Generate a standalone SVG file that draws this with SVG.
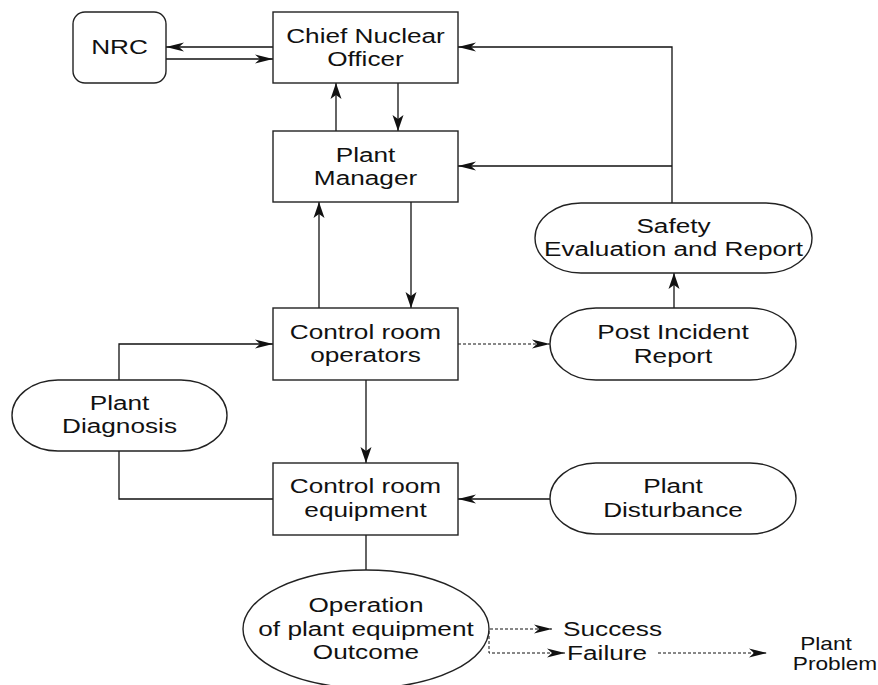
<svg xmlns="http://www.w3.org/2000/svg" width="878" height="685" viewBox="0 0 878 685">
  <style>
    .box { fill: #fff; stroke: #222; stroke-width: 1.4; }
    .lbl { font-family: "Liberation Sans", Arial, sans-serif; font-size: 20px; fill: #111; text-anchor: middle; }
    .lbl.start { text-anchor: start; }
    .lbl.small { font-size: 18px; }
    .ln { fill: none; stroke: #111; stroke-width: 1.3; }
    .dash { fill: none; stroke: #111; stroke-width: 1; stroke-dasharray: 3 2; }
    .h { marker-end: url(#ah); }
    .v { marker-end: url(#av); }
  </style>
  <defs>
    <!-- barbed arrowheads: a narrow one for horizontal runs, a wider one for vertical runs -->
    <marker id="ah" markerUnits="userSpaceOnUse" markerWidth="20" markerHeight="10" refX="18" refY="4.5" orient="auto" overflow="visible">
      <path d="M0,0 L18,4.5 L0,9 L5,4.5 z" fill="#111"/>
    </marker>
    <marker id="av" markerUnits="userSpaceOnUse" markerWidth="17" markerHeight="12" refX="16" refY="5.5" orient="auto" overflow="visible">
      <path d="M0,0 L16,5.5 L0,11 L4,5.5 z" fill="#111"/>
    </marker>
  </defs>

  <rect width="878" height="685" fill="#fff"/>

  <g id="connectors">
    <!-- NRC / Chief Nuclear Officer -->
    <path class="ln h" d="M273,47 H166"/>
    <path class="ln h" d="M166,59 H273"/>
    <!-- Chief Nuclear Officer / Plant Manager -->
    <path class="ln v" d="M336,131 V83"/>
    <path class="ln v" d="M398,83 V131"/>
    <!-- Safety evaluation feedback -->
    <path class="ln h" d="M672,203 V47 H458"/>
    <path class="ln h" d="M672,166 H458"/>
    <!-- Plant Manager / Control room operators -->
    <path class="ln v" d="M411,202 V308"/>
    <path class="ln v" d="M319,308 V202"/>
    <!-- Post incident report up to safety evaluation -->
    <path class="ln v" d="M674,308 V273"/>
    <!-- operators to post incident report -->
    <path class="dash h" d="M458,344 H550"/>
    <!-- plant diagnosis to operators -->
    <path class="ln h" d="M119,380 V344 H273"/>
    <!-- equipment to plant diagnosis -->
    <path class="ln" d="M273,499 H119 V451"/>
    <path class="dash" d="M119,441 V451"/>
    <!-- operators to equipment -->
    <path class="ln v" d="M366,380 V463"/>
    <!-- disturbance to equipment -->
    <path class="ln h" d="M550,499 H458"/>
    <!-- equipment to outcome -->
    <path class="ln" d="M366,535 V570"/>
    <!-- outcomes -->
    <path class="dash h" d="M490,629 H552"/>
    <path class="dash h" d="M489,631 V653 H565"/>
    <path class="dash h" d="M658,653 H767"/>
  </g>

  <g id="nrc">
    <rect class="box" x="73" y="12" width="93" height="71" rx="12" ry="12"/>
    <text class="lbl" transform="translate(119.5 54) scale(1.31 1)">NRC</text>
  </g>

  <g id="chief-nuclear-officer">
    <rect class="box" x="273" y="12" width="185" height="71"/>
    <text class="lbl" transform="translate(365.5 43) scale(1.31 1)"><tspan x="0" y="0">Chief Nuclear</tspan><tspan x="0" y="23">Officer</tspan></text>
  </g>

  <g id="plant-manager">
    <rect class="box" x="273" y="131" width="185" height="71"/>
    <text class="lbl" transform="translate(365.5 162) scale(1.31 1)"><tspan x="0" y="0">Plant</tspan><tspan x="0" y="23">Manager</tspan></text>
  </g>

  <g id="safety-evaluation">
    <rect class="box" x="535" y="203" width="277" height="70" rx="46" ry="35"/>
    <text class="lbl" transform="translate(673.5 233) scale(1.31 1)"><tspan x="0" y="0">Safety</tspan><tspan x="0" y="23">Evaluation and Report</tspan></text>
  </g>

  <g id="control-room-operators">
    <rect class="box" x="273" y="308" width="185" height="72"/>
    <text class="lbl" transform="translate(365.5 339) scale(1.31 1)"><tspan x="0" y="0">Control room</tspan><tspan x="0" y="23">operators</tspan></text>
  </g>

  <g id="post-incident-report">
    <rect class="box" x="550" y="308" width="246" height="72" rx="46" ry="36"/>
    <text class="lbl" transform="translate(673 339) scale(1.31 1)"><tspan x="0" y="0">Post Incident</tspan><tspan x="0" y="24">Report</tspan></text>
  </g>

  <g id="plant-diagnosis">
    <rect class="box" x="12" y="380" width="215" height="71" rx="46" ry="35.5"/>
    <text class="lbl" transform="translate(119.5 410) scale(1.31 1)"><tspan x="0" y="0">Plant</tspan><tspan x="0" y="23">Diagnosis</tspan></text>
  </g>

  <g id="control-room-equipment">
    <rect class="box" x="273" y="463" width="185" height="72"/>
    <text class="lbl" transform="translate(365.5 493) scale(1.31 1)"><tspan x="0" y="0">Control room</tspan><tspan x="0" y="24">equipment</tspan></text>
  </g>

  <g id="plant-disturbance">
    <rect class="box" x="550" y="463" width="246" height="71" rx="46" ry="35.5"/>
    <text class="lbl" transform="translate(673 493) scale(1.31 1)"><tspan x="0" y="0">Plant</tspan><tspan x="0" y="24">Disturbance</tspan></text>
  </g>

  <g id="operation-outcome">
    <ellipse class="box" cx="366" cy="629" rx="123" ry="59"/>
    <text class="lbl" transform="translate(366 612) scale(1.31 1)"><tspan x="0" y="0">Operation</tspan><tspan x="0" y="24">of plant equipment</tspan><tspan x="0" y="47">Outcome</tspan></text>
  </g>

  <g id="success">
    <text class="lbl start" transform="translate(563 636) scale(1.31 1)">Success</text>
  </g>

  <g id="failure">
    <text class="lbl start" transform="translate(567 660) scale(1.31 1)">Failure</text>
  </g>

  <g id="plant-problem">
    <text class="lbl small" transform="translate(826 650) scale(1.26 1)">Plant</text>
    <text class="lbl small" transform="translate(835 670) scale(1.26 1)">Problem</text>
  </g>
</svg>
